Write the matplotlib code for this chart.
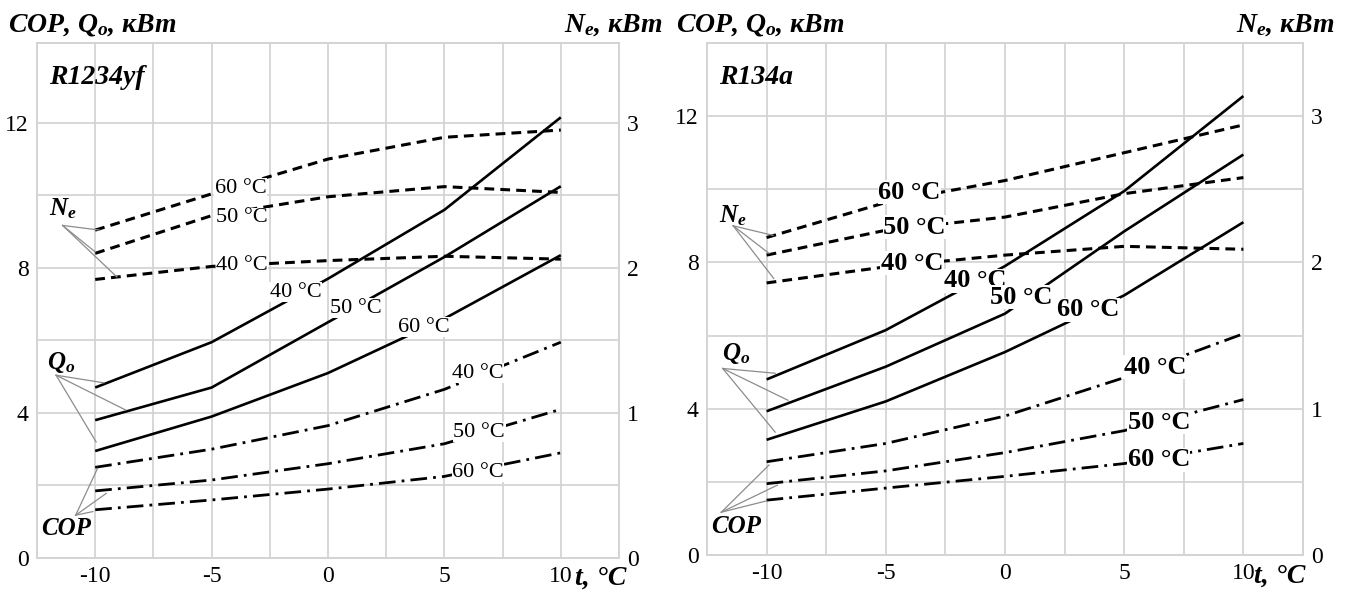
import numpy as np
import matplotlib
matplotlib.use("Agg")
import matplotlib.pyplot as plt

plt.rcParams['font.family'] = ['Liberation Serif', 'DejaVu Serif']
plt.rcParams['mathtext.fontset'] = 'custom'
plt.rcParams['mathtext.it'] = 'Liberation Serif:italic:bold'
plt.rcParams['mathtext.rm'] = 'Liberation Serif:italic:bold'

# температура кипения, °C
t = [-10, -5, 0, 5, 10]
t_cond = ['40', '50', '60']

# R1234yf: холодопроизводительность Qo (кВт), мощность Ne (кВт), COP
qo_yf = [[4.7, 5.95, 7.7, 9.6, 12.15],
         [3.8, 4.7, 6.5, 8.3, 10.25],
         [2.95, 3.9, 5.1, 6.6, 8.35]]
ne_yf = [[1.92, 2.01, 2.05, 2.08, 2.06],
         [2.1, 2.36, 2.49, 2.56, 2.52],
         [2.26, 2.51, 2.75, 2.9, 2.95]]
cop_yf = [[2.5, 3.0, 3.65, 4.65, 5.95],
          [1.85, 2.15, 2.6, 3.15, 4.1],
          [1.33, 1.6, 1.9, 2.25, 2.9]]

# R134a
qo_a = [[4.8, 6.15, 7.9, 9.95, 12.55],
        [3.93, 5.15, 6.6, 8.85, 10.95],
        [3.15, 4.2, 5.55, 7.1, 9.1]]
ne_a = [[1.86, 1.97, 2.05, 2.11, 2.09],
        [2.05, 2.22, 2.31, 2.47, 2.58],
        [2.17, 2.41, 2.56, 2.75, 2.94]]
cop_a = [[2.55, 3.05, 3.8, 4.85, 6.05],
         [1.95, 2.3, 2.8, 3.4, 4.25],
         [1.5, 1.83, 2.15, 2.5, 3.05]]

GRID = '#d4d4d4'


def panel(rect, ytop, name, qo, ne, cop, lab, lead, lab_fs, lab_fw):
    ax = fig.add_axes(rect)
    ax2 = ax.twinx()
    ax.set_xlim(-12.5, 12.5)
    ax.set_ylim(0, ytop)
    ax2.set_ylim(0, ytop / 4)
    ax.set_xticks([-10, -5, 0, 5, 10])
    ax.set_xticks(np.arange(-12.5, 12.6, 2.5), minor=True)
    ax.set_yticks([0, 4, 8, 12])
    ax.set_yticks([2, 6, 10], minor=True)
    ax2.set_yticks([0, 1, 2, 3])
    ax.grid(True, which='both', color=GRID, lw=1.3)
    ax.set_axisbelow(True)
    for a in (ax, ax2):
        for s in a.spines.values():
            s.set_color(GRID)
            s.set_linewidth(1.3)
        a.tick_params(which='both', length=0, labelsize=17, pad=6)
    ax.set_xticklabels(['-10', '-5', '0', '5', '10'])

    for i in range(3):
        ax.plot(t, qo[i], color='black', lw=1.9, solid_capstyle='butt')
        ax2.plot(t, ne[i], color='black', lw=2.2, dashes=(3.2, 2.0))
        ax.plot(t, cop[i], color='black', lw=2.0, dashes=(6, 2.2, 1, 2.2))

    # подписи температур конденсации
    for key in ('ne', 'qo', 'cop'):
        for (x, y), tc in zip(lab[key], t_cond):
            ax2.text(x, y, tc + ' °C', transform=ax.transData, ha='center',
                     va='center', fontsize=lab_fs, fontweight=lab_fw,
                     bbox=dict(facecolor='white', edgecolor='none', pad=0.3),
                     zorder=10)

    # выноски Ne, Qo, COP
    for key, txt in (('ne', '$N_e$'), ('qo', '$Q_o$'), ('cop', 'COP')):
        (ox, oy), targets, (lx, ly) = lead[key]
        for tx, ty in targets:
            ax2.plot([ox, tx], [oy, ty], color='#8c8c8c', lw=0.9,
                     transform=ax.transData, zorder=5)
        ax2.text(lx, ly, txt, transform=ax.transData, ha='center',
                 va='center', fontsize=18, fontweight='bold',
                 fontstyle='italic', zorder=11)

    ax2.text(-12.0, ytop - 0.95, name, transform=ax.transData, ha='left',
             va='center', fontsize=20, fontweight='bold', fontstyle='italic')
    return ax, ax2


fig = plt.figure(figsize=(13.46, 5.93), dpi=100)
W, H = 1346, 593

lab_yf = {'ne': [(-3.7, 8.07), (-3.7, 9.39), (-3.75, 10.19)],
          'qo': [(-1.4, 7.33), (1.2, 6.89), (4.1, 6.36)],
          'cop': [(6.45, 5.1), (6.5, 3.47), (6.45, 2.37)]}
lead_yf = {'ne': ((-11.4, 9.17), [(-9.8, 9.04), (-10.0, 8.44), (-9.07, 7.75)],
                  (-11.4, 9.62)),
           'qo': ((-11.68, 5.04), [(-9.63, 4.83), (-8.69, 4.08), (-9.96, 3.2)],
                  (-11.45, 5.4)),
           'cop': ((-10.84, 1.18), [(-9.9, 2.47), (-9.53, 1.78), (-10.1, 1.28)],
                   (-11.27, 0.8))}

lab_a = {'ne': [(-3.9, 7.98), (-3.8, 8.96), (-4.0, 9.92)],
         'qo': [(-1.25, 7.5), (0.7, 7.05), (3.5, 6.7)],
         'cop': [(6.3, 5.14), (6.45, 3.63), (6.45, 2.6)]}
lead_a = {'ne': ((-11.4, 9.0), [(-9.73, 8.74), (-9.9, 8.25), (-9.7, 7.56)],
                 (-11.4, 9.27)),
          'qo': ((-11.84, 5.1), [(-9.64, 4.97), (-9.1, 4.23), (-9.64, 3.36)],
                 (-11.3, 5.5)),
          'cop': ((-11.9, 1.17), [(-9.9, 2.46), (-9.55, 1.91), (-10.0, 1.48)],
                  (-11.3, 0.77))}

panel([37 / W, 35 / H, 582 / W, 515 / H], 14.2, 'R1234yf',
      qo_yf, ne_yf, cop_yf, lab_yf, lead_yf, 16, 'normal')
panel([707 / W, 38 / H, 596 / W, 512 / H], 14.0, 'R134a',
      qo_a, ne_a, cop_a, lab_a, lead_a, 19, 'bold')

# подписи осей
ax_kw = dict(fontsize=20, fontweight='bold', fontstyle='italic', va='center')
fig.text(8 / W, 1 - 25 / H, 'COP, $Q_o$, кВт', ha='left', **ax_kw)
fig.text(662 / W, 1 - 25 / H, '$N_e$, кВт', ha='right', **ax_kw)
fig.text(676 / W, 1 - 25 / H, 'COP, $Q_o$, кВт', ha='left', **ax_kw)
fig.text(1334 / W, 1 - 25 / H, '$N_e$, кВт', ha='right', **ax_kw)
fig.text(575 / W, 1 - 578 / H, 't, °C', ha='left', **ax_kw)
fig.text(1254 / W, 1 - 576 / H, 't, °C', ha='left', **ax_kw)

fig.savefig('out.png', dpi=100, facecolor='white')
